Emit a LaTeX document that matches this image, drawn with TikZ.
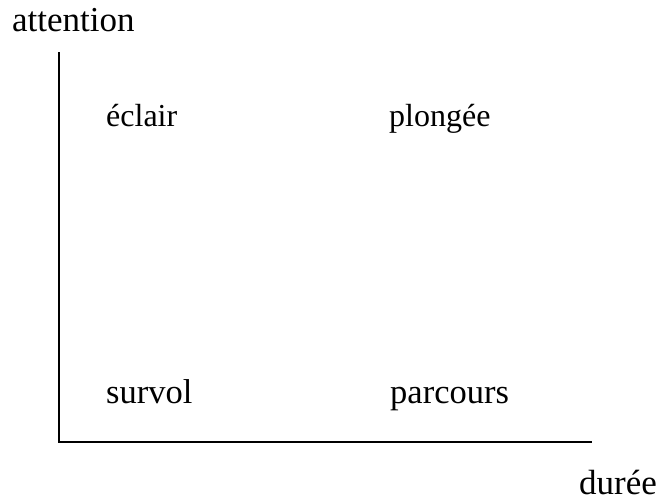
\documentclass[tikz,border=0pt]{standalone}
\usepackage{fontspec}
\setmainfont{Liberation Serif}
\begin{document}
\begin{tikzpicture}[x=1pt,y=-1pt,
  axis/.style={line width=1.6pt, line cap=rect},
  lbl/.style={anchor=base west, inner sep=0pt, font=\fontsize{32}{36}\selectfont},
  lblw/.style={anchor=base west, inner sep=0pt, font=\fontsize{34.5}{38}\selectfont},
  axlbl/.style={anchor=base west, inner sep=0pt, font=\fontsize{35}{40}\selectfont}]
\useasboundingbox (0,0) rectangle (659,502);
\coordinate (top) at (59,53);
\coordinate (origin) at (59,442);
\coordinate (right) at (591,442);
\draw[axis] (top) -- (origin) -- (right);
\node[axlbl] (att) at (12,32) {attention};
\node[axlbl] (dur) at (579,495) {durée};
\node[lbl] (ecl) at (106,127) {éclair};
\node[lbl] (plo) at (389,127) {plongée};
\node[lblw] (sur) at (106,404) {survol};
\node[lblw] (par) at (390,404) {parcours};
\end{tikzpicture}
\end{document}
